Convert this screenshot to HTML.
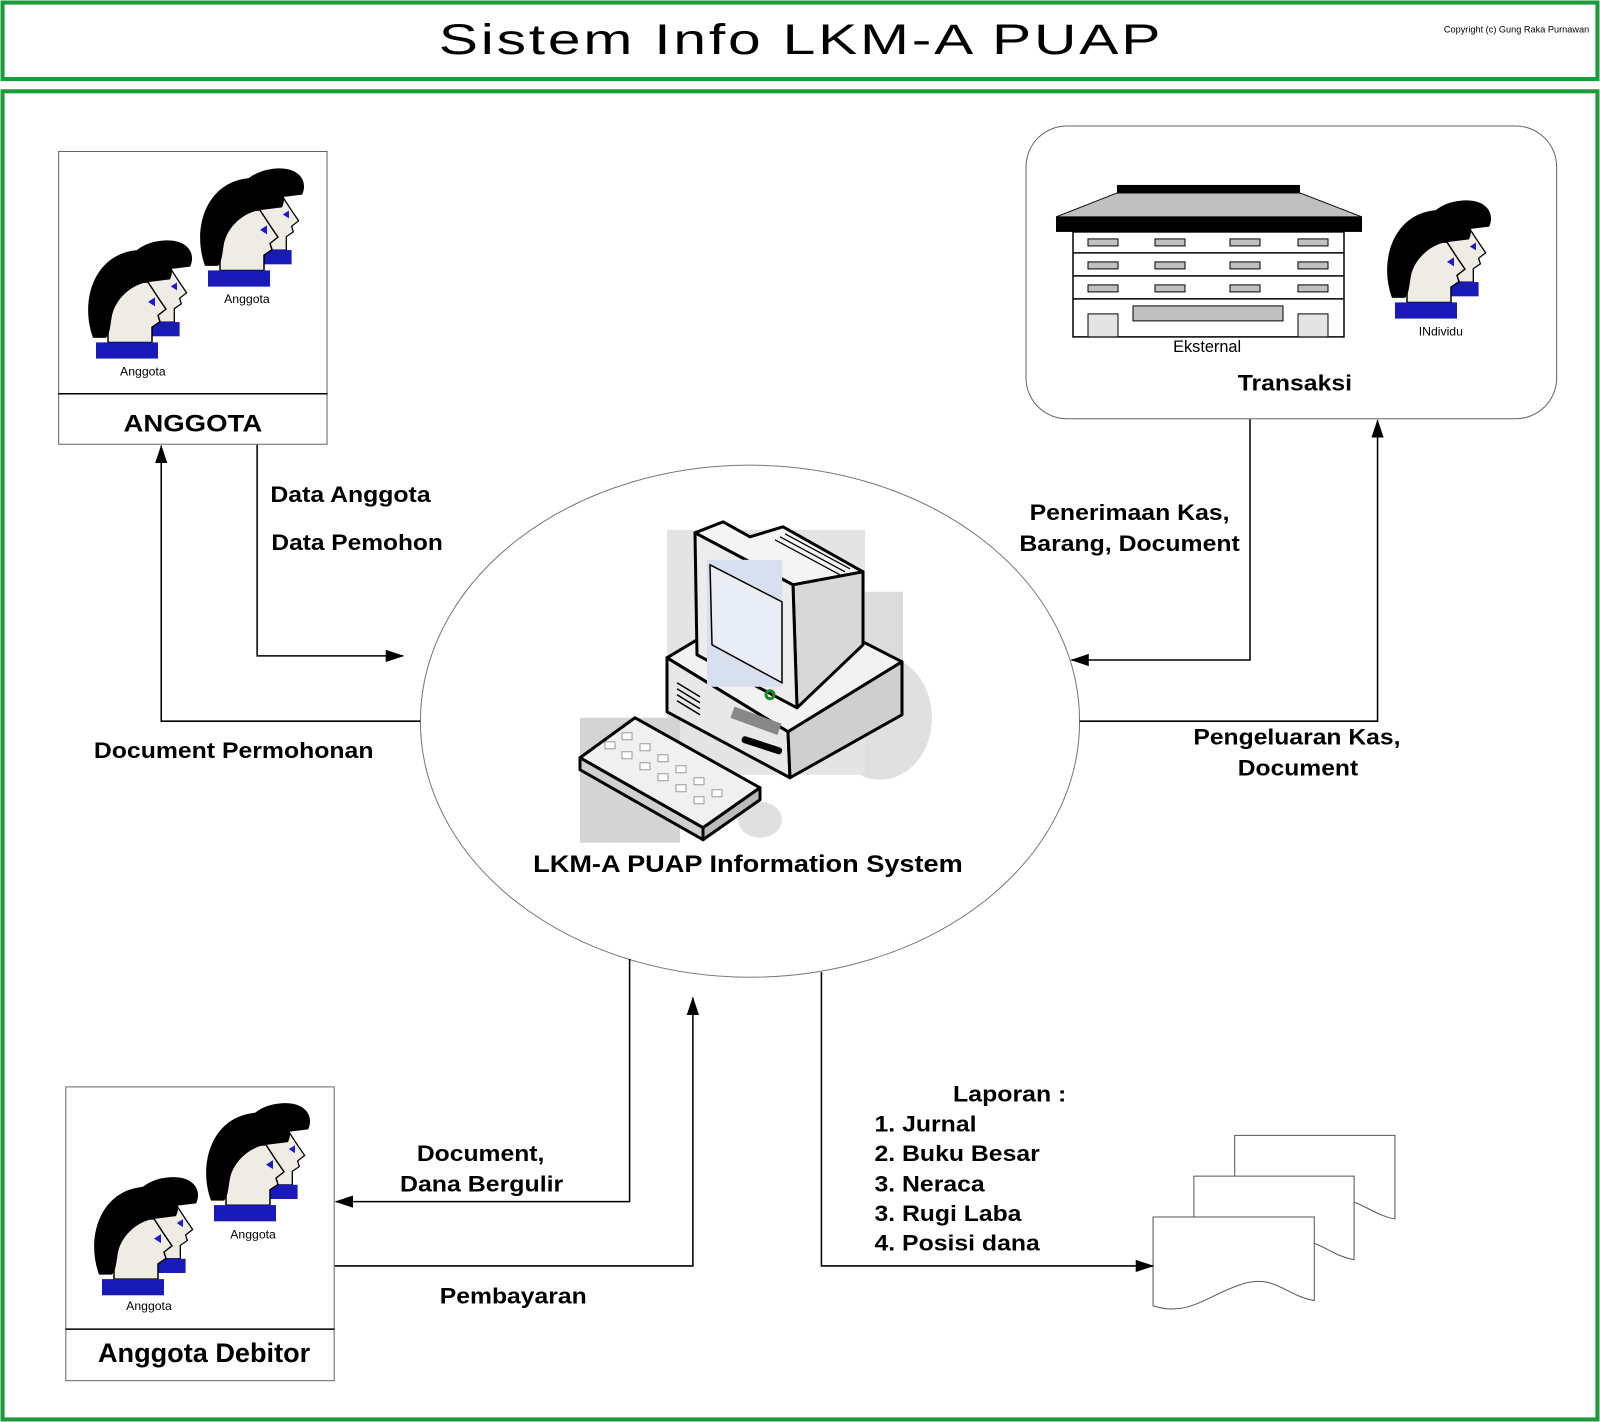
<!DOCTYPE html>
<html><head><meta charset="utf-8"><style>
html,body{margin:0;padding:0;background:#fff}
svg{display:block}
text{font-family:"Liberation Sans",sans-serif}
</style></head><body>
<svg width="1600" height="1422" viewBox="0 0 1568 1394" preserveAspectRatio="none" xmlns="http://www.w3.org/2000/svg">
<defs>
<g id="hd">
<path d="M20,40 L60,38 L70,55 L78,68 L70,75 L72,82 L64,88 L64,105 L20,105 Z" fill="#efece6" stroke="#000" stroke-width="1.5"/>
<path d="M5,100 C-8,60 5,10 45,3 C75,-3 90,15 82,35 L60,38 C45,40 28,55 24,75 C22,88 22,95 18,100 Z" fill="#000"/>
<polygon points="60,60 67,55 67,65" fill="#1a1ad0"/>
<rect x="8" y="105" width="62" height="18" fill="#1a1ab8"/>
</g>
<g id="pair">
<g transform="scale(1,0.9)">
<use href="#hd" transform="translate(30,-10) scale(0.88)"/>
<use href="#hd"/>
</g>
</g>
<marker id="a" markerWidth="18" markerHeight="12" refX="17" refY="6" orient="auto" markerUnits="userSpaceOnUse"><path d="M0,0 L18,6 L0,12 Z" fill="#000"/></marker>
</defs>
<rect x="2.5" y="2.5" width="1563" height="75" fill="none" stroke="#1a9a3a" stroke-width="4"/>
<rect x="2.5" y="89.5" width="1563" height="1302" fill="none" stroke="#1a9a3a" stroke-width="4"/>
<text x="785" y="53" text-anchor="middle" font-size="42" textLength="710" lengthAdjust="spacingAndGlyphs" letter-spacing="2">Sistem Info LKM-A PUAP</text>
<text x="1415" y="32" font-size="9">Copyright (c) Gung Raka Purnawan</text>

<rect x="57.5" y="148.5" width="263" height="287" fill="none" stroke="#666" stroke-width="1"/>
<line x1="57" y1="386" x2="321" y2="386" stroke="#000" stroke-width="1.5"/>
<text x="189" y="423" text-anchor="middle" font-size="24" font-weight="bold" textLength="136" lengthAdjust="spacingAndGlyphs">ANGGOTA</text>
<rect x="1005.5" y="123.5" width="520" height="287" rx="40" fill="none" stroke="#666" stroke-width="1"/>
<rect x="64.5" y="1065.5" width="263" height="288" fill="none" stroke="#666" stroke-width="1"/>
<line x1="64" y1="1303" x2="328" y2="1303" stroke="#000" stroke-width="1.5"/>
<text x="200" y="1335" text-anchor="middle" font-size="26" font-weight="bold" textLength="208" lengthAdjust="spacingAndGlyphs">Anggota Debitor</text>
<ellipse cx="735" cy="707" rx="323" ry="251" fill="none" stroke="#777" stroke-width="1"/>

<g transform="scale(0.98)">
<use href="#pair" transform="translate(88,248)"/>
<use href="#pair" transform="translate(200,176)"/>
<use href="#pair" transform="translate(94,1185)"/>
<use href="#pair" transform="translate(206,1111)"/>
<use href="#pair" transform="translate(1387,208)"/>
<polygon points="1117,193 1300,193 1362,217 1056,217" fill="#c0c0c0" stroke="#000" stroke-width="1"/>
<rect x="1117" y="185" width="183" height="8" fill="#000"/>
<rect x="1056" y="217" width="306" height="15" fill="#000"/>
<rect x="1073" y="232" width="271" height="105" fill="#fff" stroke="#000" stroke-width="1.5"/>
<g stroke="#000" stroke-width="1.5"><line x1="1073" y1="253" x2="1344" y2="253"/><line x1="1073" y1="276" x2="1344" y2="276"/><line x1="1073" y1="299" x2="1344" y2="299"/></g>
<g fill="#c0c0c0" stroke="#000" stroke-width="1">
<rect x="1088" y="239" width="30" height="7"/><rect x="1155" y="239" width="30" height="7"/><rect x="1230" y="239" width="30" height="7"/><rect x="1298" y="239" width="30" height="7"/>
<rect x="1088" y="262" width="30" height="7"/><rect x="1155" y="262" width="30" height="7"/><rect x="1230" y="262" width="30" height="7"/><rect x="1298" y="262" width="30" height="7"/>
<rect x="1088" y="285" width="30" height="7"/><rect x="1155" y="285" width="30" height="7"/><rect x="1230" y="285" width="30" height="7"/><rect x="1298" y="285" width="30" height="7"/>
<rect x="1133" y="306" width="150" height="15"/>
<rect x="1088" y="314" width="30" height="23" fill="#e4e4e4"/><rect x="1298" y="314" width="30" height="23" fill="#e4e4e4"/>
</g>
<ellipse cx="880" cy="718" rx="52" ry="62" fill="#e0e0e0"/>
<ellipse cx="760" cy="820" rx="22" ry="18" fill="#e0e0e0"/>
<rect x="667" y="530" width="198" height="245" fill="#e4e4e4"/>
<rect x="863" y="592" width="40" height="120" fill="#dcdcdc"/>
<rect x="580" y="718" width="100" height="125" fill="#d4d4d4"/>
<polygon points="667,658 697,640 863,642 902,662 788,732" fill="#f2f2f2" stroke="#000" stroke-width="3" stroke-linejoin="round"/>
<polygon points="667,658 788,732 790,778 667,712" fill="#e8e8e8" stroke="#000" stroke-width="3" stroke-linejoin="round"/>
<polygon points="788,732 902,662 902,715 790,778" fill="#cfcfcf" stroke="#000" stroke-width="3" stroke-linejoin="round"/>
<g stroke="#000" stroke-width="1.5"><line x1="677" y1="683" x2="700" y2="697"/><line x1="677" y1="689" x2="700" y2="703"/><line x1="677" y1="695" x2="700" y2="709"/><line x1="677" y1="701" x2="700" y2="715"/></g>
<rect x="731" y="715" width="50" height="12" fill="#888" transform="rotate(20 756 721)"/>
<rect x="741" y="742" width="42" height="7" rx="3" fill="#000" transform="rotate(18 762 745)"/>
<polygon points="695,533 723,522 750,537 783,527 863,572 793,585" fill="#f4f4f4" stroke="#000" stroke-width="3" stroke-linejoin="round"/>
<polygon points="793,585 863,572 863,645 797,708" fill="#d8d8d8" stroke="#000" stroke-width="3" stroke-linejoin="round"/>
<polygon points="695,533 793,585 797,708 697,655" fill="#ececec" stroke="#000" stroke-width="3" stroke-linejoin="round"/>
<rect x="707" y="560" width="75" height="127" fill="#d8dfee"/>
<polygon points="710,565 782,602 782,683 712,645" fill="#e8edf6" stroke="#000" stroke-width="1.5"/>
<g stroke="#000" stroke-width="1.2"><line x1="775" y1="540" x2="840" y2="575"/><line x1="780" y1="537" x2="845" y2="572"/><line x1="785" y1="534" x2="850" y2="569"/></g>
<circle cx="770" cy="695" r="4" fill="none" stroke="#1a8a2a" stroke-width="3"/>
<polygon points="580,758 635,718 760,788 703,828" fill="#f0f0f0" stroke="#000" stroke-width="3" stroke-linejoin="round"/>
<g fill="#fff" stroke="#999" stroke-width="1">
<rect x="605" y="742" width="10" height="7"/><rect x="622" y="733" width="10" height="7"/><rect x="622" y="752" width="10" height="7"/><rect x="640" y="744" width="10" height="7"/><rect x="640" y="763" width="10" height="7"/><rect x="658" y="755" width="10" height="7"/><rect x="658" y="774" width="10" height="7"/><rect x="676" y="766" width="10" height="7"/><rect x="676" y="785" width="10" height="7"/><rect x="694" y="778" width="10" height="7"/><rect x="712" y="790" width="10" height="7"/><rect x="694" y="797" width="10" height="7"/>
</g>
<polygon points="580,758 703,828 703,840 580,770" fill="#d0d0d0" stroke="#000" stroke-width="3" stroke-linejoin="round"/>
<polygon points="703,828 760,788 760,800 703,840" fill="#bbb" stroke="#000" stroke-width="3" stroke-linejoin="round"/>
</g>

<g fill="#fff" stroke="#555" stroke-width="1">
<path d="M1210,1113 H1367 V1195 C1340,1190 1330,1170 1300,1178 C1265,1188 1245,1210 1210,1200 Z"/>
<path d="M1170,1153 H1327 V1235 C1300,1230 1290,1210 1260,1218 C1225,1228 1205,1250 1170,1240 Z"/>
<path d="M1130,1193 H1288 V1275 C1260,1270 1250,1250 1220,1258 C1185,1268 1165,1292 1130,1280 Z"/>
</g>

<g fill="none" stroke="#000" stroke-width="1.5">
<polyline points="252,436 252,643 395,643" marker-end="url(#a)"/>
<polyline points="412,707 158,707 158,437" marker-end="url(#a)"/>
<polyline points="1225,411 1225,647 1050,647" marker-end="url(#a)"/>
<polyline points="1058,707 1350,707 1350,412" marker-end="url(#a)"/>
<polyline points="617,940 617,1178 329,1178" marker-end="url(#a)"/>
<polyline points="328,1241 679,1241 679,978" marker-end="url(#a)"/>
<polyline points="805,953 805,1241 1130,1241" marker-end="url(#a)"/>
</g>

<text x="140" y="368" text-anchor="middle" font-size="12">Anggota</text>
<text x="242" y="297" text-anchor="middle" font-size="12">Anggota</text>
<text x="146" y="1284" text-anchor="middle" font-size="12">Anggota</text>
<text x="248" y="1214" text-anchor="middle" font-size="12">Anggota</text>
<text x="1183" y="345" text-anchor="middle" font-size="16">Eksternal</text>
<text x="1412" y="329" text-anchor="middle" font-size="12">INdividu</text>
<g font-size="22" font-weight="bold" lengthAdjust="spacingAndGlyphs">
<text x="1269" y="383" text-anchor="middle" textLength="112" lengthAdjust="spacingAndGlyphs">Transaksi</text>
<text x="265" y="492" textLength="157" lengthAdjust="spacingAndGlyphs">Data Anggota</text>
<text x="266" y="539" textLength="168" lengthAdjust="spacingAndGlyphs">Data Pemohon</text>
<text x="92" y="743" textLength="274" lengthAdjust="spacingAndGlyphs">Document Permohonan</text>
<text x="1107" y="510" text-anchor="middle" textLength="196" lengthAdjust="spacingAndGlyphs">Penerimaan Kas,</text>
<text x="1107" y="540" text-anchor="middle" textLength="216" lengthAdjust="spacingAndGlyphs">Barang, Document</text>
<text x="1271" y="730" text-anchor="middle" textLength="203" lengthAdjust="spacingAndGlyphs">Pengeluaran Kas,</text>
<text x="1272" y="760" text-anchor="middle" textLength="118" lengthAdjust="spacingAndGlyphs">Document</text>
<text x="733" y="855" text-anchor="middle" font-size="24" textLength="421" lengthAdjust="spacingAndGlyphs">LKM-A PUAP Information System</text>
<text x="471" y="1138" text-anchor="middle" textLength="125" lengthAdjust="spacingAndGlyphs">Document,</text>
<text x="472" y="1168" text-anchor="middle" textLength="160" lengthAdjust="spacingAndGlyphs">Dana Bergulir</text>
<text x="503" y="1278" text-anchor="middle" textLength="144" lengthAdjust="spacingAndGlyphs">Pembayaran</text>
<text x="934" y="1080" textLength="111" lengthAdjust="spacingAndGlyphs">Laporan :</text>
<text x="857" y="1109" textLength="100" lengthAdjust="spacingAndGlyphs">1. Jurnal</text>
<text x="857" y="1138" textLength="162" lengthAdjust="spacingAndGlyphs">2. Buku Besar</text>
<text x="857" y="1168" textLength="108" lengthAdjust="spacingAndGlyphs">3. Neraca</text>
<text x="857" y="1197" textLength="144" lengthAdjust="spacingAndGlyphs">3. Rugi Laba</text>
<text x="857" y="1226" textLength="162" lengthAdjust="spacingAndGlyphs">4. Posisi dana</text>
</g>
</svg>
</body></html>
